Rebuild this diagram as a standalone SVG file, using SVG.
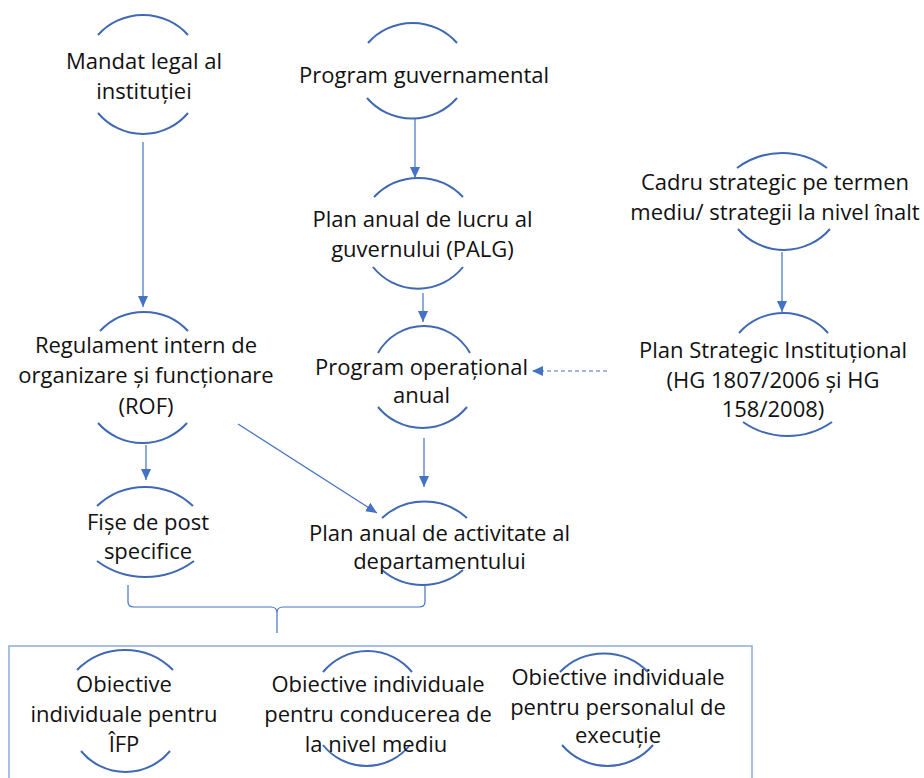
<svg xmlns="http://www.w3.org/2000/svg" width="924" height="778" viewBox="0 0 924 778">
<defs>
<style>
text{font-family:"Open Sans","Noto Sans","Liberation Sans",sans-serif;font-size:22px;fill:#111111;text-anchor:middle}
.arc{fill:none;stroke:#3F69B3;stroke-width:2}
.con{fill:none;stroke:#4472C4;stroke-width:1.2}
.dash{stroke-dasharray:4 3}
.box{fill:none;stroke:#8FAADC;stroke-width:1.5}
</style>
<marker id="ah" markerUnits="userSpaceOnUse" markerWidth="11" markerHeight="10" refX="11" refY="5" orient="auto">
<path d="M0,0 L11,5 L0,10 z" fill="#4472C4"/>
</marker>
</defs>
<rect width="924" height="778" fill="#ffffff"/>

<g id="connectors">
<line class="con" x1="143" y1="142" x2="143" y2="307" marker-end="url(#ah)"/>
<line class="con" x1="415" y1="118" x2="415" y2="178" marker-end="url(#ah)"/>
<line class="con" x1="782" y1="252" x2="782" y2="312" marker-end="url(#ah)"/>
<line class="con" x1="423" y1="293" x2="423" y2="322" marker-end="url(#ah)"/>
<line class="con dash" x1="607" y1="371" x2="532" y2="371" marker-end="url(#ah)"/>
<line class="con" x1="146" y1="445" x2="146" y2="480" marker-end="url(#ah)"/>
<line class="con" x1="238" y1="424" x2="377" y2="513" marker-end="url(#ah)"/>
<line class="con" x1="424" y1="438" x2="424" y2="487" marker-end="url(#ah)"/>
<path class="con" d="M128,585 L128,602 Q128,607 134,607 L271,607 Q277,607 277,613 L277,633 M277,613 Q277,607 283,607 L419,607 Q425,607 425,602 L425,585"/>
</g>

<rect id="objectives-box" class="box" x="9" y="646" width="743" height="140"/>

<g id="n-mandat">
<path class="arc" d="M98,35 A60.6,60.6 0 0 1 188,35"/>
<path class="arc" d="M98,113 A58.7,58.7 0 0 0 188,113"/>
<text x="144" y="69">Mandat legal al</text>
<text x="144" y="99">instituției</text>
</g>

<g id="n-program-guv">
<path class="arc" d="M368,43 A59.5,59.5 0 0 1 457,43"/>
<path class="arc" d="M367,98 A59.5,59.5 0 0 0 457,98"/>
<text x="424" y="83">Program guvernamental</text>
</g>

<g id="n-cadru">
<path class="arc" d="M737,168 A75,75 0 0 1 827,168"/>
<path class="arc" d="M738,229 A60.9,60.9 0 0 0 830,229"/>
<text x="775" y="190">Cadru strategic pe termen</text>
<text x="775" y="220">mediu/ strategii la nivel înalt</text>
</g>

<g id="n-palg">
<path class="arc" d="M374,197 A61.6,61.6 0 0 1 463,197"/>
<path class="arc" d="M373,267 A57.6,57.6 0 0 0 463,267"/>
<text x="422.5" y="227">Plan anual de lucru al</text>
<text x="422.5" y="257">guvernului (PALG)</text>
</g>

<g id="n-rof">
<path class="arc" d="M100,331 A60.4,60.4 0 0 1 188,331"/>
<path class="arc" d="M98,423 A59.5,59.5 0 0 0 187,423"/>
<text x="146" y="353">Regulament intern de</text>
<text x="146" y="383">organizare și funcționare</text>
<text x="146" y="414">(ROF)</text>
</g>

<g id="n-program-op">
<path class="arc" d="M378,353 A52.7,52.7 0 0 1 470,353"/>
<path class="arc" d="M378,407 A57.6,57.6 0 0 0 467,407"/>
<text x="421.5" y="375">Program operațional</text>
<text x="421.5" y="403">anual</text>
</g>

<g id="n-psi">
<path class="arc" d="M739,333 A59.5,59.5 0 0 1 828,333"/>
<path class="arc" d="M743,422 A77.7,77.7 0 0 0 832,422"/>
<text x="773" y="358">Plan Strategic Instituțional</text>
<text x="773" y="388">(HG 1807/2006 și HG</text>
<text x="773" y="417">158/2008)</text>
</g>

<g id="n-fise">
<path class="arc" d="M97,506 A70.1,70.1 0 0 1 193,506"/>
<path class="arc" d="M97,561 A81.5,81.5 0 0 0 194,561"/>
<text x="148" y="530">Fișe de post</text>
<text x="148" y="559">specifice</text>
</g>

<g id="n-plan-dep">
<path class="arc" d="M382,518 A63,63 0 0 1 467,518"/>
<path class="arc" d="M382,570 A62.2,62.2 0 0 0 463,570"/>
<text x="439.5" y="541">Plan anual de activitate al</text>
<text x="439.5" y="569">departamentului</text>
</g>

<g id="n-obj-ifp">
<path class="arc" d="M77,670 A67.6,67.6 0 0 1 173,670"/>
<path class="arc" d="M81,751 A57.6,57.6 0 0 0 170,751"/>
<text x="124" y="692">Obiective</text>
<text x="124" y="722">individuale pentru</text>
<text x="124" y="752">ÎFP</text>
</g>

<g id="n-obj-cond">
<path class="arc" d="M323,672 A57.6,57.6 0 0 1 412,672"/>
<path class="arc" d="M323,745 A55.5,55.5 0 0 0 410,745"/>
<text x="378" y="692">Obiective individuale</text>
<text x="378" y="722">pentru conducerea de</text>
<text x="376" y="752">la nivel mediu</text>
</g>

<g id="n-obj-exec">
<path class="arc" d="M560,672 A61.6,61.6 0 0 1 648,672"/>
<path class="arc" d="M562,745 A59.8,59.8 0 0 0 653,745"/>
<text x="618" y="685">Obiective individuale</text>
<text x="618" y="715">pentru personalul de</text>
<text x="618" y="743">execuție</text>
</g>
</svg>
